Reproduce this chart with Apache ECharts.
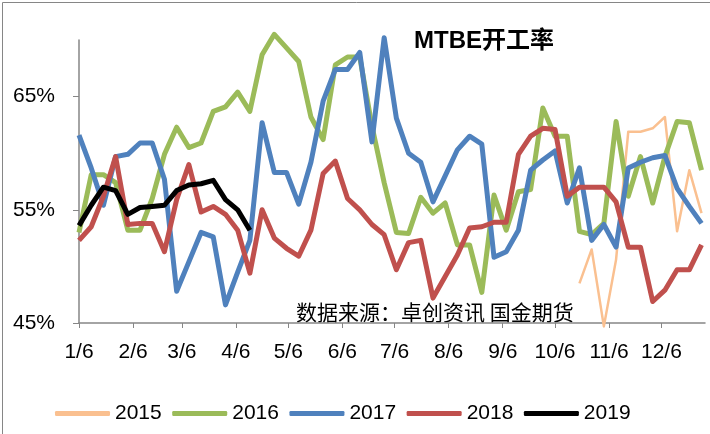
<!DOCTYPE html>
<html>
<head>
<meta charset="utf-8">
<script src="https://cdn.jsdelivr.net/npm/echarts@6/dist/echarts.min.js"></script>
<style>
  html, body { margin: 0; padding: 0; background: #fff; }
  #chart { width: 710px; height: 434px; }
</style>
</head>
<body>
<div id="chart"></div>
<script>
// x 轴：从 1/6 起按天计
var monthLabels = ['1/6', '2/6', '3/6', '4/6', '5/6', '6/6', '7/6', '8/6', '9/6', '10/6', '11/6', '12/6'];
var monthDays = [0, 31, 59, 90, 120, 151, 181, 212, 243, 273, 304, 334];
var yTicks = [45, 55, 65];

// 周度开工率（%），第 n 个值对应第 start + n 周
var start2015 = 41;
var v2015 = [48.5, 51.5, 44.7, 50.6, 61.9, 61.9, 62.2, 63.2, 53.1, 58.5, 54.7];
var v2016 = [53.0, 58.1, 58.1, 57.4, 53.2, 53.2, 56.0, 59.9, 62.3, 60.5, 60.9, 63.7, 64.1,
    65.4, 63.7, 68.7, 70.5, 69.3, 68.1, 63.2, 61.2, 67.8, 68.5, 68.5, 62.4, 57.4, 53.0,
    52.9, 56.1, 54.7, 55.6, 51.9, 51.9, 47.7, 56.3, 53.2, 56.6, 56.8, 64.0, 61.5, 61.5,
    53.1, 52.8, 53.8, 62.8, 56.2, 59.7, 55.6, 59.7, 62.8, 62.7, 58.5];
var v2017 = [61.6, 58.7, 55.4, 59.7, 59.9, 60.9, 60.9, 57.7, 47.8, 50.4, 53.0, 52.6, 46.6,
    49.5, 52.3, 62.7, 58.3, 58.3, 55.5, 59.2, 64.6, 67.4, 67.4, 68.9, 61.0, 70.2, 63.1,
    60.0, 59.2, 55.7, 58.0, 60.3, 61.5, 60.8, 50.8, 51.3, 53.2, 58.5, 59.4, 60.2, 55.6,
    58.7, 52.3, 53.7, 51.7, 58.7, 59.2, 59.6, 59.8, 56.9, 55.3, 53.8];
var v2018 = [52.3, 53.5, 56.2, 59.7, 53.7, 53.8, 53.8, 51.3, 55.9, 59.0, 54.8, 55.3, 54.6,
    53.2, 49.4, 55.0, 52.5, 51.6, 50.9, 53.2, 58.2, 59.3, 56.0, 55.0, 53.7, 52.8, 49.7,
    52.1, 52.3, 47.2, 49.1, 51.0, 53.4, 53.5, 53.9, 53.9, 59.9, 61.5, 62.2, 62.1, 56.2,
    57.0, 57.0, 57.0, 55.7, 51.7, 51.7, 46.9, 47.9, 49.7, 49.7, 51.9];
var v2019 = [53.6, 55.4, 57.0, 56.7, 54.6, 55.2, 55.3, 55.4, 56.7, 57.2, 57.3, 57.6, 55.9, 55.0, 53.2];

function weekly(values, start) {
    return values.map(function (v, i) {
        return [((start || 0) + i) * 7, v];
    });
}

var font = "'Liberation Sans', 'Noto Sans CJK SC', sans-serif";
var myChart = echarts.init(document.getElementById('chart'));

function line(name, data, color, width) {
    return {
        name: name,
        type: 'line',
        data: data,
        symbol: 'none',
        clip: false,
        animation: false,
        lineStyle: { color: color, width: width, join: 'round' },
        itemStyle: { color: color }
    };
}

var option = {
    animation: false,
    title: {
        text: 'MTBE开工率',
        left: 409,
        top: 24,
        textStyle: { fontSize: 24, fontWeight: 'bold', color: '#000', fontFamily: font }
    },
    graphic: [
        {
            type: 'rect',
            left: 0, top: 0,
            shape: { width: 709, height: 433 },
            style: { fill: null, stroke: '#868686', lineWidth: 1 },
            silent: true
        },
        {
            type: 'text',
            left: 296, top: 302,
            style: { text: '数据来源：卓创资讯 国金期货', fontSize: 21, fill: '#000', fontFamily: "'Noto Sans CJK SC', sans-serif" }
        }
    ],
    legend: {
        top: 403,
        left: 55,
        padding: 0,
        icon: 'roundRect',
        itemWidth: 55,
        itemHeight: 5,
        itemGap: 10.5,
        textStyle: { fontSize: 21, color: '#000', fontFamily: font },
        data: ['2015', '2016', '2017', '2018', '2019']
    },
    grid: { left: 79, top: 40, right: 5, bottom: 111, containLabel: false },
    xAxis: {
        type: 'value',
        min: 0,
        max: 359,
        splitLine: { show: false },
        axisLine: { lineStyle: { color: '#868686', width: 1.5 } },
        axisTick: { show: true, length: 5, customValues: monthDays, lineStyle: { color: '#868686' } },
        axisLabel: {
            customValues: monthDays,
            margin: 19,
            fontSize: 21,
            color: '#000',
            fontFamily: font,
            formatter: function (v) { return monthLabels[monthDays.indexOf(v)]; }
        }
    },
    yAxis: {
        type: 'value',
        min: 45,
        max: 70,
        splitLine: { show: false },
        axisLine: { show: true, lineStyle: { color: '#868686', width: 1.5 } },
        axisTick: { show: true, length: 6, customValues: yTicks, lineStyle: { color: '#868686' } },
        axisLabel: {
            customValues: yTicks,
            margin: 24,
            fontSize: 21,
            color: '#000',
            fontFamily: font,
            formatter: '{value}%'
        }
    },
    series: [
        line('2015', weekly(v2015, start2015), '#FAC090', 2.5),
        line('2016', weekly(v2016), '#9BBB59', 5),
        line('2017', weekly(v2017), '#4F81BD', 5),
        line('2018', weekly(v2018), '#C0504D', 5),
        line('2019', weekly(v2019), '#000000', 5)
    ]
};

myChart.setOption(option);
</script>
</body>
</html>
